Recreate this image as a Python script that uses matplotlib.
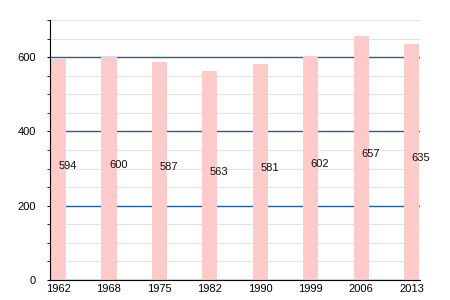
import matplotlib
matplotlib.use("Agg")
import matplotlib.pyplot as plt
from matplotlib.ticker import MultipleLocator

plt.rcParams["font.family"] = ["Liberation Sans", "DejaVu Sans"]

years = ["1962", "1968", "1975", "1982", "1990", "1999", "2006", "2013"]
population = [594, 600, 587, 563, 581, 602, 657, 635]

fig = plt.figure(figsize=(4.5, 3.0), dpi=100)
ax = fig.add_axes([0.111, 0.067, 0.822, 0.866])

x = list(range(len(years)))
ax.bar(x, population, width=0.3, color="#ffcaca", zorder=2)

for xi, v in zip(x, population):
    ax.text(xi, v / 2 + 10, str(v), ha="left", va="center", fontsize=8,
            color="#111111", zorder=3)

ax.set_xlim(-0.17, 7.16)
ax.set_ylim(0, 700)
ax.set_xticks(x)
ax.set_xticklabels(years)
ax.yaxis.set_major_locator(MultipleLocator(200))
ax.yaxis.set_minor_locator(MultipleLocator(50))
ax.grid(which="minor", axis="y", color="#e2e2e2", linewidth=0.8, zorder=0)
ax.grid(which="major", axis="y", color="#1f5fa6", linewidth=1.0, zorder=1)
ax.set_axisbelow(True)

for s in ["top", "right"]:
    ax.spines[s].set_visible(False)
ax.spines["left"].set_color("black")
ax.spines["bottom"].set_color("black")
ax.tick_params(axis="x", length=0, labelsize=8, pad=3)
ax.tick_params(axis="y", which="both", length=2.2, direction="out", labelsize=8,
               pad=8)

fig.savefig("out.png", dpi=100)
